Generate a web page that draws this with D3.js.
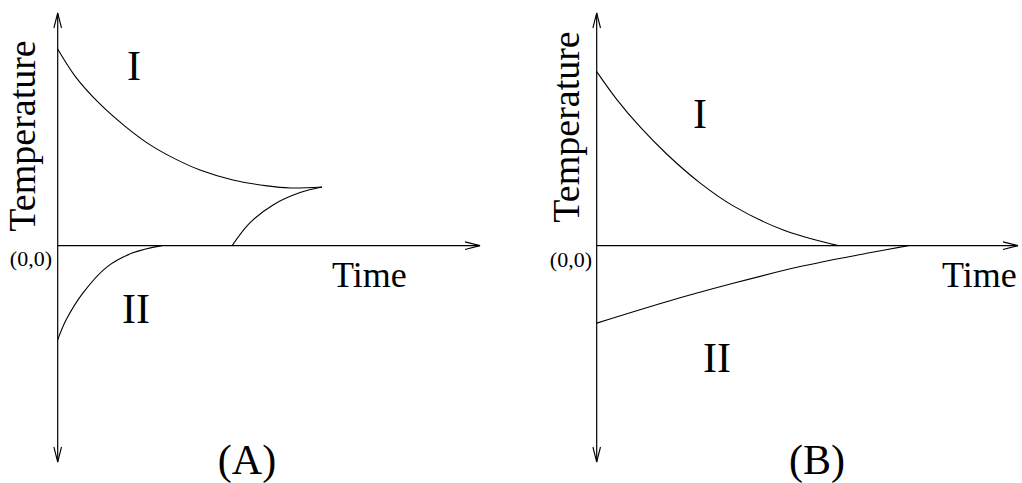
<!DOCTYPE html>
<html>
<head>
<meta charset="utf-8">
<script src="https://cdn.jsdelivr.net/npm/d3@7"></script>
<style>
  body { margin: 0; background: #fff; }
  svg { display: block; }
  text { font-family: "Liberation Serif", "Times New Roman", serif; fill: #000; }
</style>
</head>
<body>
<svg id="chart"></svg>
<script>
// time / temperature in arbitrary units
var panelNames = ["(A)", "(B)"];

var aCurveI = [[0, 8.45], [0.41, 7.29], [1.0, 6.09], [1.59, 5.14], [2.19, 4.33], [2.78, 3.73],
               [3.37, 3.25], [4.15, 2.82], [4.96, 2.57], [5.5, 2.48], [6.26, 2.52]];
var aCurveRise = [[4.13, 0], [4.55, 0.98], [5.1, 1.75], [5.74, 2.28], [6.26, 2.52]];
var aCurveII = [[0, -4.05], [0.2, -3.19], [0.6, -2.03], [1.17, -0.91], [1.78, -0.31], [2.47, 0]];

var bCurveI = [[0, 7.48], [0.47, 6.3], [1.03, 5.1], [1.66, 3.94], [2.45, 2.7], [3.24, 1.71],
               [4.43, 0.67], [5.73, 0]];
var bCurveII = [[0, -3.33], [1.66, -2.41], [3.24, -1.62], [4.83, -0.9], [6.41, -0.33], [7.4, 0]];

var regionLabels = ["I", "II"];
var axisLabels = { y: "Temperature", x: "Time", origin: "(0,0)" };

var svgWidth = 1022, svgHeight = 483;
var svg = d3.select("#chart")
    .attr("width", svgWidth)
    .attr("height", svgHeight);

var panels = [
    { name: panelNames[0], curves: [aCurveI, aCurveRise, aCurveII], ox: 57.7, xEnd: 480,
      yLabel: [35, 136], origin: [52, 266], time: [332, 287],
      lab1: [127, 80], lab2: [122, 323], title: [247, 474] },
    { name: panelNames[1], curves: [bCurveI, bCurveII], ox: 596.7, xEnd: 1018,
      yLabel: [579, 127], origin: [592, 267], time: [942, 287],
      lab1: [693, 128], lab2: [703, 372], title: [817, 474] }
];

var yTop = 13, yBottom = 462;
var y = d3.scaleLinear().domain([-9.3, 10]).range([yBottom, yTop]);

panels.forEach(function(p) {
    var x = d3.scaleLinear().domain([0, 10]).range([p.ox, p.xEnd]);
    var g = svg.append("g");

    var line = d3.line()
        .x(function(d) { return x(d[0]); })
        .y(function(d) { return y(d[1]); })
        .curve(d3.curveCatmullRom.alpha(0.5));

    // axes
    g.append("path")
        .attr("d", "M" + x(0) + "," + y.range()[1] + "V" + y.range()[0])
        .attr("stroke", "#000").attr("stroke-width", 1.2).attr("fill", "none");
    g.append("path")
        .attr("d", "M" + x(0) + "," + y(0) + "H" + x(10))
        .attr("stroke", "#000").attr("stroke-width", 1.2).attr("fill", "none");

    // open arrow heads
    var ah = 15, aw = 3.8;
    var heads = [
        [[x(0) - aw, yTop + ah], [x(0), yTop], [x(0) + aw, yTop + ah]],
        [[x(0) - aw, yBottom - ah], [x(0), yBottom], [x(0) + aw, yBottom - ah]],
        [[x(10) - ah, y(0) - aw], [x(10), y(0)], [x(10) - ah, y(0) + aw]]
    ];
    g.selectAll(".head")
        .data(heads)
        .enter()
        .append("path")
        .attr("d", d3.line())
        .attr("stroke", "#000").attr("stroke-width", 1.1).attr("fill", "none");

    g.selectAll(".curve")
        .data(p.curves)
        .enter()
        .append("path")
        .attr("d", line)
        .attr("stroke", "#000").attr("stroke-width", 1.1).attr("fill", "none");

    // labels
    g.append("text")
        .attr("transform", "translate(" + p.yLabel[0] + "," + p.yLabel[1] + ") rotate(-90)")
        .attr("text-anchor", "middle")
        .style("font-size", "38px")
        .text(axisLabels.y);
    g.append("text")
        .attr("x", p.origin[0]).attr("y", p.origin[1])
        .attr("text-anchor", "end")
        .style("font-size", "22px")
        .text(axisLabels.origin);
    g.append("text")
        .attr("x", p.time[0]).attr("y", p.time[1])
        .style("font-size", "36px")
        .text(axisLabels.x);
    g.append("text")
        .attr("x", p.lab1[0]).attr("y", p.lab1[1])
        .style("font-size", "42px")
        .text(regionLabels[0]);
    g.append("text")
        .attr("x", p.lab2[0]).attr("y", p.lab2[1])
        .style("font-size", "42px")
        .text(regionLabels[1]);
    g.append("text")
        .attr("x", p.title[0]).attr("y", p.title[1])
        .attr("text-anchor", "middle")
        .style("font-size", "42px")
        .text(p.name);
});
</script>
</body>
</html>
